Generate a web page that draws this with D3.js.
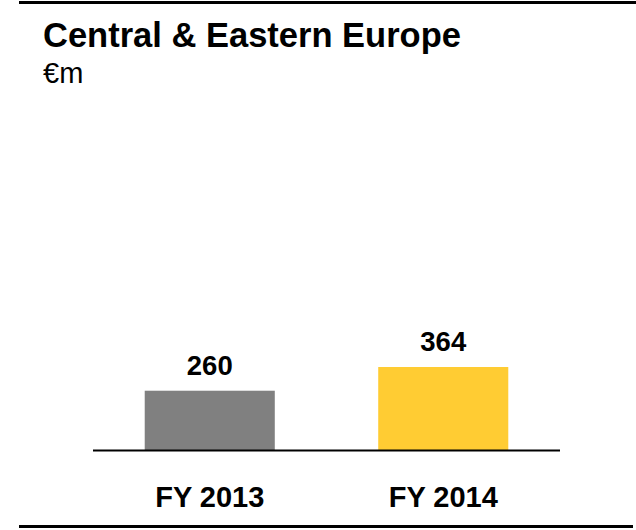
<!DOCTYPE html>
<html>
<head>
<meta charset="utf-8">
<script src="https://cdn.jsdelivr.net/npm/d3@7"></script>
<style>
body { margin: 0; background: #fff; }
text { font-family: "Liberation Sans", Arial, sans-serif; }
</style>
</head>
<body>
<div id="chart"></div>
<script>
const categories = ["FY 2013", "FY 2014"];
const values = [260, 364];
const colors = ["#808080", "#FFCC33"];

const width = 636,
height = 530;

const svg = d3.select("#chart")
.append("svg")
.attr("width", width)
.attr("height", height);

// frame lines top and bottom
svg.append("line")
.attr("x1", 19).attr("x2", 636)
.attr("y1", 2.5).attr("y2", 2.5)
.attr("stroke", "#000")
.attr("stroke-width", 3);

svg.append("line")
.attr("x1", 19).attr("x2", 633)
.attr("y1", 526.5).attr("y2", 526.5)
.attr("stroke", "#000")
.attr("stroke-width", 3);

svg.append("text")
.attr("x", 43)
.attr("y", 47)
.attr("font-size", 34.5)
.attr("font-weight", "bold")
.text("Central & Eastern Europe");

svg.append("text")
.attr("x", 43)
.attr("y", 83)
.attr("font-size", 29)
.text("€m");

const xScale = d3.scaleBand()
.domain(categories)
.range([93, 560])
.paddingInner(0.443)
.paddingOuter(0.2215);

const yScale = d3.scaleLinear()
.domain([0, 1500])
.range([450, 108]);

svg.selectAll("rect.bar")
.data(values)
.join("rect")
.attr("class", "bar")
.attr("x", (d, i) => xScale(categories[i]))
.attr("y", d => yScale(d))
.attr("width", xScale.bandwidth())
.attr("height", d => yScale(0) - yScale(d))
.attr("fill", (d, i) => colors[i]);

// baseline
svg.append("line")
.attr("x1", xScale.range()[0]).attr("x2", xScale.range()[1])
.attr("y1", yScale(0) + 0.5).attr("y2", yScale(0) + 0.5)
.attr("stroke", "#000")
.attr("stroke-width", 2);

svg.selectAll("text.value")
.data(values)
.join("text")
.attr("class", "value")
.attr("x", (d, i) => xScale(categories[i]) + xScale.bandwidth() / 2)
.attr("y", d => yScale(d) - 16)
.attr("text-anchor", "middle")
.attr("font-size", 27.5)
.attr("font-weight", "bold")
.text(d => d);

svg.selectAll("text.cat")
.data(categories)
.join("text")
.attr("class", "cat")
.attr("x", d => xScale(d) + xScale.bandwidth() / 2)
.attr("y", 507)
.attr("text-anchor", "middle")
.attr("font-size", 29)
.attr("font-weight", "bold")
.text(d => d);
</script>
</body>
</html>
